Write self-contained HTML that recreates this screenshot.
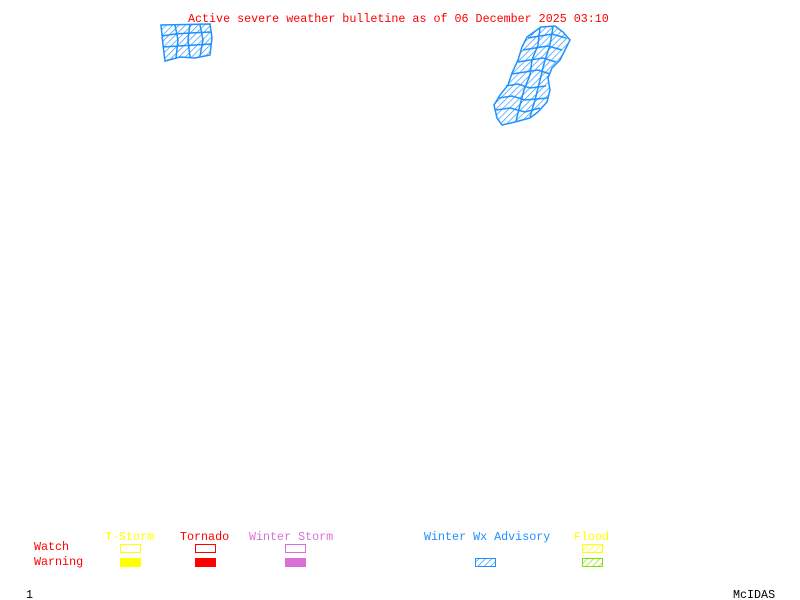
<!DOCTYPE html>
<html><head><meta charset="utf-8"><style>
html,body{margin:0;padding:0;background:#fff;}
svg{display:block}
text{font-family:"Liberation Mono",monospace;font-size:11.7px;}
</style></head><body>
<svg width="800" height="600" viewBox="0 0 800 600" xmlns="http://www.w3.org/2000/svg">
<defs>
<pattern id="hb" width="4.5" height="4.5" patternUnits="userSpaceOnUse" patternTransform="rotate(45)">
<line x1="0" y1="0" x2="0" y2="4.5" stroke="#1e90ff" stroke-width="1.3"/></pattern>
<pattern id="hy" width="4.5" height="4.5" patternUnits="userSpaceOnUse" patternTransform="rotate(45)">
<line x1="0" y1="0" x2="0" y2="4.5" stroke="#ffff00" stroke-width="1.3"/></pattern>
<pattern id="hg" width="4.5" height="4.5" patternUnits="userSpaceOnUse" patternTransform="rotate(45)">
<line x1="0" y1="0" x2="0" y2="4.5" stroke="#7fdf00" stroke-width="1.3"/></pattern>
</defs>
<text x="188" y="22" fill="#ff0000">Active severe weather bulletine as of 06 December 2025 03:10</text>

<g stroke="#1e90ff" stroke-width="1.5" fill="url(#hb)">
<polygon points="161,25 210,24 212,38 210,55 195,58 180,57 165,61 163,45"/>
<polyline fill="none" points="162,36 175,34 190,33 211,32"/>
<polyline fill="none" points="163,47 178,46 195,45 211,44"/>
<polyline fill="none" points="175,25 178,40 176,58"/>
<polyline fill="none" points="190,24 188,40 190,57"/>
<polyline fill="none" points="200,25 203,40 200,56"/>
</g>

<g stroke="#1e90ff" stroke-width="1.5" fill="url(#hb)">
<polygon points="541,27 555,26 563,32 570,40 565,50 560,60 552,68 548,78 550,90 547,102 538,112 530,118 515,122 502,125 497,118 494,105 500,95 508,85 512,73 518,60 522,47 527,37"/>
<polyline fill="none" points="528,38 540,36 552,34 566,38"/>
<polyline fill="none" points="523,50 535,48 548,46 562,50"/>
<polyline fill="none" points="518,62 530,60 543,58 556,62"/>
<polyline fill="none" points="512,74 525,72 538,70 550,74"/>
<polyline fill="none" points="506,86 518,84 530,88 546,86"/>
<polyline fill="none" points="499,98 512,96 525,100 548,98"/>
<polyline fill="none" points="496,110 510,108 525,112 540,108"/>
<polyline fill="none" points="540,28 538,45 532,60 530,75 524,90 520,105 516,121"/>
<polyline fill="none" points="553,27 550,45 545,60 540,80 535,100 530,117"/>
</g>

<text x="105" y="540" fill="#ffff00">T-Storm</text>
<text x="180" y="540" fill="#ff0000">Tornado</text>
<text x="249" y="540" fill="#da70d6">Winter Storm</text>
<text x="424" y="540" fill="#1e90ff">Winter Wx Advisory</text>
<text x="574" y="540" fill="#ffff00">Flood</text>
<text x="34" y="550" fill="#ff0000">Watch</text>
<text x="34" y="565" fill="#ff0000">Warning</text>

<rect x="120.5" y="544.5" width="20" height="8" fill="none" stroke="#ffff00"/>
<rect x="120" y="558" width="21" height="9" fill="#ffff00"/>
<rect x="195.5" y="544.5" width="20" height="8" fill="none" stroke="#ff0000"/>
<rect x="195" y="558" width="21" height="9" fill="#ff0000"/>
<rect x="285.5" y="544.5" width="20" height="8" fill="none" stroke="#da70d6"/>
<rect x="285" y="558" width="21" height="9" fill="#da70d6"/>
<rect x="475.5" y="558.5" width="20" height="8" fill="url(#hb)" stroke="#1e90ff"/>
<rect x="582.5" y="544.5" width="20" height="8" fill="url(#hy)" stroke="#ffff00"/>
<rect x="582.5" y="558.5" width="20" height="8" fill="url(#hg)" stroke="#7fdf00"/>

<text x="26" y="598" fill="#000">1</text>
<text x="733" y="598" fill="#000">McIDAS</text>
</svg>
</body></html>
